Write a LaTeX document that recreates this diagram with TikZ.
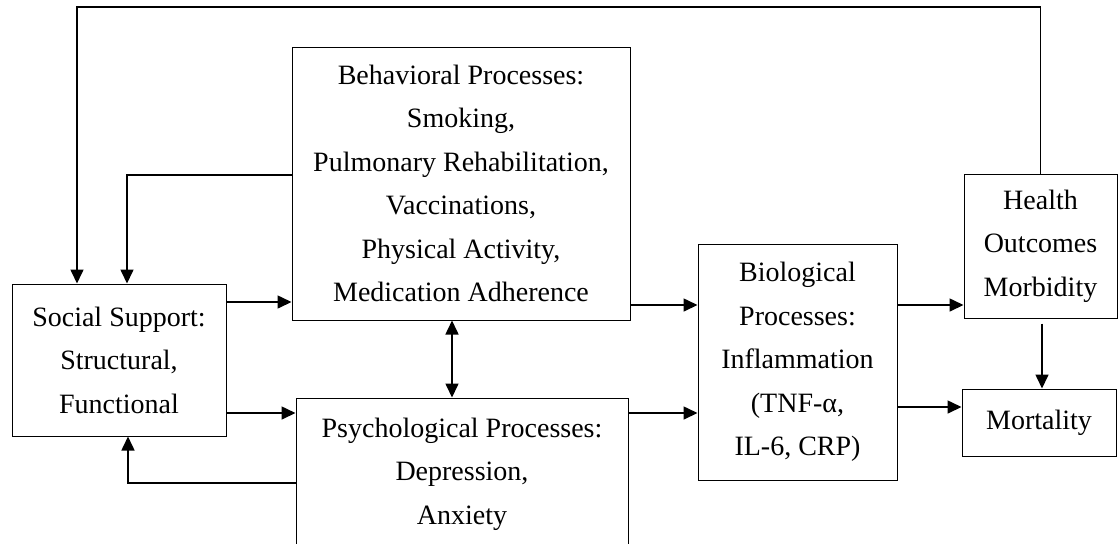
\documentclass[tikz,border=0pt]{standalone}
\usepackage{fontspec}
\setmainfont{Liberation Serif}
\usepackage{tikz}
\usetikzlibrary{arrows.meta}
\tikzset{procbox/.style={draw,line width=0.5pt,inner sep=0pt,align=center,font=\fontsize{14}{21.75}\selectfont}}

\begin{document}
\begin{tikzpicture}[x=0.5pt,y=-0.5pt,>={Triangle[length=7pt,width=6.5pt]},line width=0.8pt]
\useasboundingbox (0,0) rectangle (1118,543);
\clip (0,0) rectangle (1118,543);
\node[procbox,minimum width=107pt,minimum height=76pt] (social) at (119,360) {Social Support:\\Structural,\\Functional};
\node[procbox,minimum width=169pt,minimum height=136.5pt] (behav) at (461,183.5) {Behavioral Processes:\\Smoking,\\Pulmonary Rehabilitation,\\Vaccinations,\\Physical Activity,\\Medication Adherence};
\node[procbox,minimum width=166pt,minimum height=76pt] (psych) at (462,474) {Psychological Processes:\\Depression,\\Anxiety};
\node[procbox,minimum width=99.5pt,minimum height=118pt] (bio) at (797.5,362) {Biological\\Processes:\\Inflammation\\(TNF-α,\\IL-6, CRP)};
\node[procbox,minimum width=76.5pt,minimum height=72pt] (health) at (1040.5,246) {Health\\Outcomes\\Morbidity};
\node[procbox,minimum width=77pt,minimum height=33.5pt] (mort) at (1039,422.5) {Mortality};
% feedback loops into social support
\draw[->] (health.north) |- (77,7) -- (social.north -| 77,0);
\draw[->] (behav.west |- 0,175) -| (social.north -| 127,0);
\draw[->] (psych.west |- 0,483) -| (social.south -| 128,0);
% forward paths
\draw[->] (social.east |- 0,302) -- (behav.west |- 0,302);
\draw[->] (social.east |- 0,413) -- (psych.west |- 0,413);
\draw[<->] (behav.south -| 452,0) -- (psych.north -| 452,0);
\draw[->] (behav.east |- 0,305) -- (bio.west |- 0,305);
\draw[->] (psych.east |- 0,413) -- (bio.west |- 0,413);
\draw[->] (bio.east |- 0,305) -- (health.west |- 0,305);
\draw[->] (bio.east |- 0,407) -- (mort.west |- 0,407);
\draw[->,shorten <=2.5pt] (health.south -| 1042,0) -- (mort.north -| 1042,0);
\end{tikzpicture}
\end{document}
